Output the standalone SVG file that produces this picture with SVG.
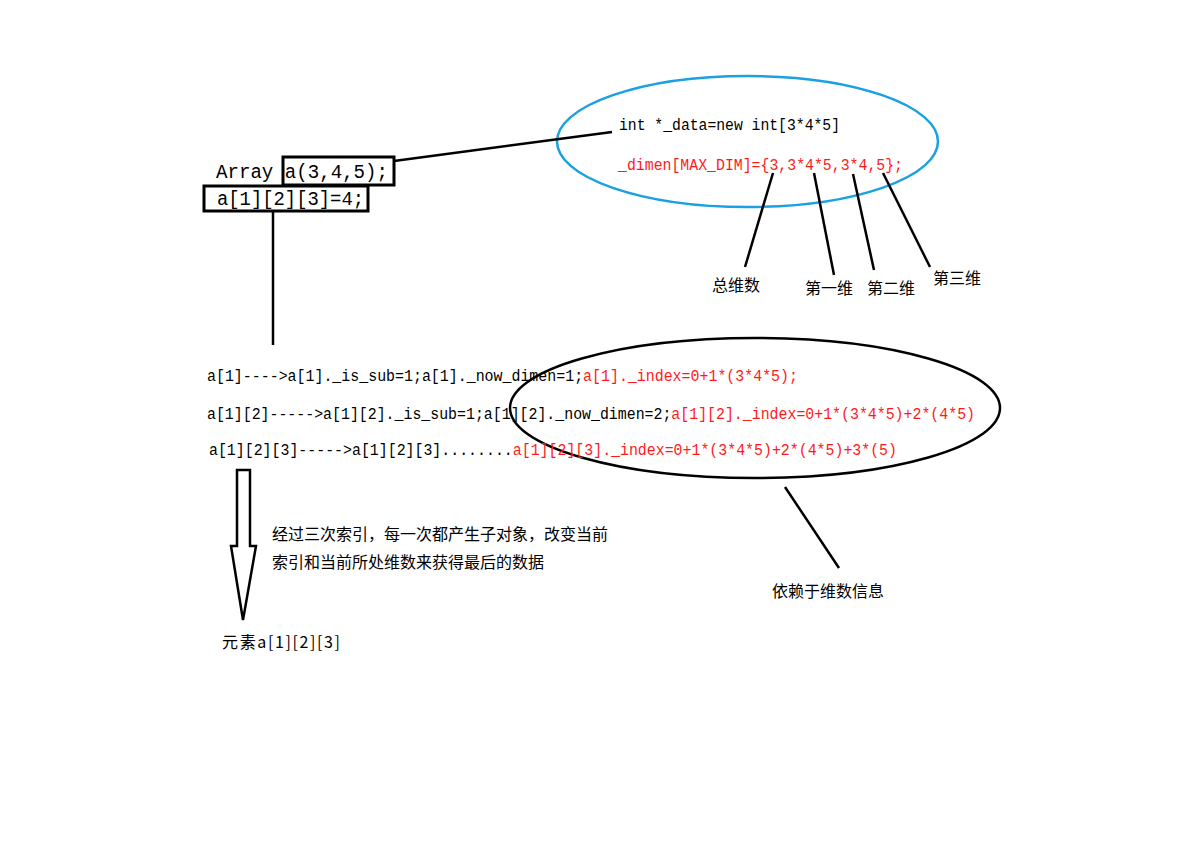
<svg xmlns="http://www.w3.org/2000/svg" width="1200" height="860" viewBox="0 0 1200 860">
  <style>
    .mono { font-family: "Liberation Mono", "DejaVu Sans Mono", monospace; }
    .code { font-size: 16px; fill: #000; }
    .red { fill: #ff1a1a; }
    .big { font-size: 19.5px; fill: #000; }
    .cjk { font-family: "Noto Sans CJK SC", "Noto Sans", sans-serif; font-size: 16px; fill: #000; }
    .box { fill: none; stroke: #000; stroke-width: 3; }
    .wire { fill: none; stroke: #000; stroke-width: 2.5; }
  </style>
  <rect width="1200" height="860" fill="#fff"/>

  <!-- declaration boxes -->
  <g id="decl">
    <rect class="box" x="283" y="157" width="111" height="28"/>
    <rect class="box" x="204" y="186" width="164" height="25"/>
    <text class="mono big" x="216" y="178" textLength="172" lengthAdjust="spacingAndGlyphs">Array a(3,4,5);</text>
    <text class="mono big" x="217" y="205" textLength="147" lengthAdjust="spacingAndGlyphs">a[1][2][3]=4;</text>
  </g>

  <!-- storage members -->
  <g id="storage">
    <ellipse cx="747.5" cy="141.5" rx="190.5" ry="65.5" fill="none" stroke="#1ba1e2" stroke-width="2.5"/>
    <text class="mono code" x="619" y="130" textLength="221" lengthAdjust="spacingAndGlyphs">int *_data=new int[3*4*5]</text>
    <text class="mono code red" x="618" y="170" textLength="285" lengthAdjust="spacingAndGlyphs">_dimen[MAX_DIM]={3,3*4*5,3*4,5};</text>
  </g>

  <!-- dimension labels -->
  <g id="label-total"><text class="cjk" x="712" y="291">总维数</text></g>
  <g id="label-dim1"><text class="cjk" x="805" y="294">第一维</text></g>
  <g id="label-dim2"><text class="cjk" x="867" y="294">第二维</text></g>
  <g id="label-dim3"><text class="cjk" x="933" y="284">第三维</text></g>

  <!-- index steps -->
  <g id="steps">
    <ellipse cx="755" cy="408" rx="245" ry="70" fill="none" stroke="#000" stroke-width="2.5"/>
    <text class="mono code" x="207" y="381" textLength="591" lengthAdjust="spacingAndGlyphs">a[1]----&gt;a[1]._is_sub=1;a[1]._now_dimen=1;<tspan class="red">a[1]._index=0+1*(3*4*5);</tspan></text>
    <text class="mono code" x="207" y="419" textLength="768" lengthAdjust="spacingAndGlyphs">a[1][2]-----&gt;a[1][2]._is_sub=1;a[1][2]._now_dimen=2;<tspan class="red">a[1][2]._index=0+1*(3*4*5)+2*(4*5)</tspan></text>
    <text class="mono code" x="209" y="455" textLength="688" lengthAdjust="spacingAndGlyphs">a[1][2][3]-----&gt;a[1][2][3]........<tspan class="red">a[1][2][3]._index=0+1*(3*4*5)+2*(4*5)+3*(5)</tspan></text>
  </g>

  <!-- result -->
  <g id="arrow">
    <polygon points="237,470 250,470 250,546 256,546 243,620 231,546 237,546" fill="#fff" stroke="#000" stroke-width="2.5" stroke-linejoin="miter"/>
  </g>
  <g id="note">
    <text class="cjk" x="272" y="540">经过三次索引，每一次都产生子对象，改变当前</text>
    <text class="cjk" x="272" y="568">索引和当前所处维数来获得最后的数据</text>
  </g>
  <g id="element"><text class="cjk" x="222" y="648" textLength="118" lengthAdjust="spacing">元素a[1][2][3]</text></g>
  <g id="depends"><text class="cjk" x="772" y="597">依赖于维数信息</text></g>

  <!-- connectors -->
  <g id="connectors">
    <line class="wire" x1="394" y1="161" x2="612" y2="132"/>
    <line class="wire" x1="773" y1="173" x2="745" y2="267"/>
    <line class="wire" x1="814" y1="173" x2="834" y2="275"/>
    <line class="wire" x1="853" y1="174" x2="874" y2="270"/>
    <line class="wire" x1="883" y1="173" x2="930" y2="267"/>
    <line class="wire" x1="273" y1="211" x2="273" y2="345"/>
    <line class="wire" x1="785" y1="487" x2="839" y2="568"/>
  </g>
</svg>
